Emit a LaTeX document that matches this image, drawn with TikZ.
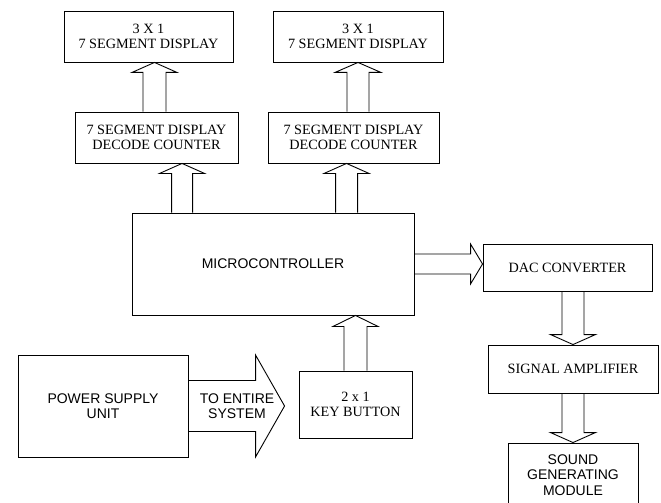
\documentclass[tikz,border=0pt]{standalone}
\usepackage{fontspec}
\setmainfont{Liberation Serif}
\setsansfont{Liberation Sans}
\usetikzlibrary{calc}
\newcommand{\thinw}{0.9pt}
\newcommand{\serifsz}{\fontsize{14.2}{15}\selectfont}
\newcommand{\sanssz}{\sffamily\fontsize{14}{15.2}\selectfont}
% block arrows: {from}{to}{half shaft}{half head}{head length}
\newcommand{\upblock}[5]{\draw[blockline] let \p1=#1, \p2=#2 in
    (\x1-#3,\y1) -- (\x1-#3,\y2-#5) -- (\x1-#4,\y2-#5) -- (\x1,\y2)
    -- (\x1+#4,\y2-#5) -- (\x1+#3,\y2-#5) -- (\x1+#3,\y1);}
\newcommand{\downblock}[5]{\draw[blockline] let \p1=#1, \p2=#2 in
    (\x1-#3,\y1) -- (\x1-#3,\y2+#5) -- (\x1-#4,\y2+#5) -- (\x1,\y2)
    -- (\x1+#4,\y2+#5) -- (\x1+#3,\y2+#5) -- (\x1+#3,\y1);}
\newcommand{\rightblock}[5]{\draw[blockline] let \p1=#1, \p2=#2 in
    (\x1,\y1+#3) -- (\x2-#5,\y1+#3) -- (\x2-#5,\y1+#4) -- (\x2,\y1)
    -- (\x2-#5,\y1-#4) -- (\x2-#5,\y1-#3) -- (\x1,\y1-#3);}

\begin{document}
\begin{tikzpicture}[x=1pt,y=-1pt]
    \tikzset{box/.style = {draw, line width=\thinw, inner sep=0pt, align=center, font=\serifsz},
             sansbox/.style = {box, font=\sanssz},
             blockline/.style = {line width=\thinw, line join=miter}}
    %\draw[help lines] (0,0) grid[step=50] (661,503);
    \useasboundingbox (0,0) rectangle (661,503);

    \node[box, minimum width=169pt, minimum height=51pt] (disp1) at (148.5,36.5) {3 X 1\\7 SEGMENT DISPLAY};
    \node[box, minimum width=170pt, minimum height=51pt] (disp2) at (358,36.5) {3 X 1\\7 SEGMENT DISPLAY};
    \node[box, minimum width=163pt, minimum height=51pt] (dec1) at (156.5,137.5) {7 SEGMENT DISPLAY\\DECODE COUNTER};
    \node[box, minimum width=171pt, minimum height=51pt] (dec2) at (353.5,137.5) {7 SEGMENT DISPLAY\\DECODE COUNTER};
    \node[sansbox, minimum width=282pt, minimum height=102pt] (mcu) at (273,264) {MICROCONTROLLER};
    \node[box, minimum width=169pt, minimum height=47pt] (dac) at (567.5,267.5) {DAC CONVERTER};
    \node[box, minimum width=170pt, minimum height=48pt] (sig) at (573,369) {SIGNAL AMPLIFIER};
    \node[sansbox, minimum width=130pt, minimum height=64pt] (snd) at (573,475) {SOUND\\GENERATING\\MODULE};
    \node[sansbox, minimum width=170pt, minimum height=102pt] (pwr) at (103,406) {POWER SUPPLY\\UNIT};
    \node[box, minimum width=113pt, minimum height=67pt] (key) at (355.5,404.5) {2 x 1\\KEY BUTTON};

    \upblock{($(dec1.north)+(-2,0)$)}{(disp1.south)}{11.5pt}{22.5pt}{10pt}
    \upblock{(dec2.north -| disp2.south)}{(disp2.south)}{11pt}{23pt}{10pt}
    \upblock{($(mcu.north west)+(50.5,0)$)}{(dec1.south)}{10.5pt}{22.5pt}{10pt}
    \upblock{($(mcu.north west)+(215,0)$)}{(dec2.south)}{11pt}{22.5pt}{10pt}
    \upblock{(key.north)}{(mcu.south)}{11.5pt}{22.5pt}{11pt}
    \rightblock{(mcu.east)}{(dac.west)}{10pt}{20pt}{12pt}
    \downblock{(dac.south -| sig.north)}{(sig.north)}{11pt}{22.5pt}{10pt}
    \downblock{(sig.south)}{(snd.north)}{11pt}{22.5pt}{10pt}
    \rightblock{(pwr.east)}{($(key.west)+(-14,0)$)}{25.5pt}{51pt}{29pt}
    \node[font=\sanssz, align=center] (lbl) at (237,406) {TO ENTIRE\\SYSTEM};
\end{tikzpicture}
\end{document}
